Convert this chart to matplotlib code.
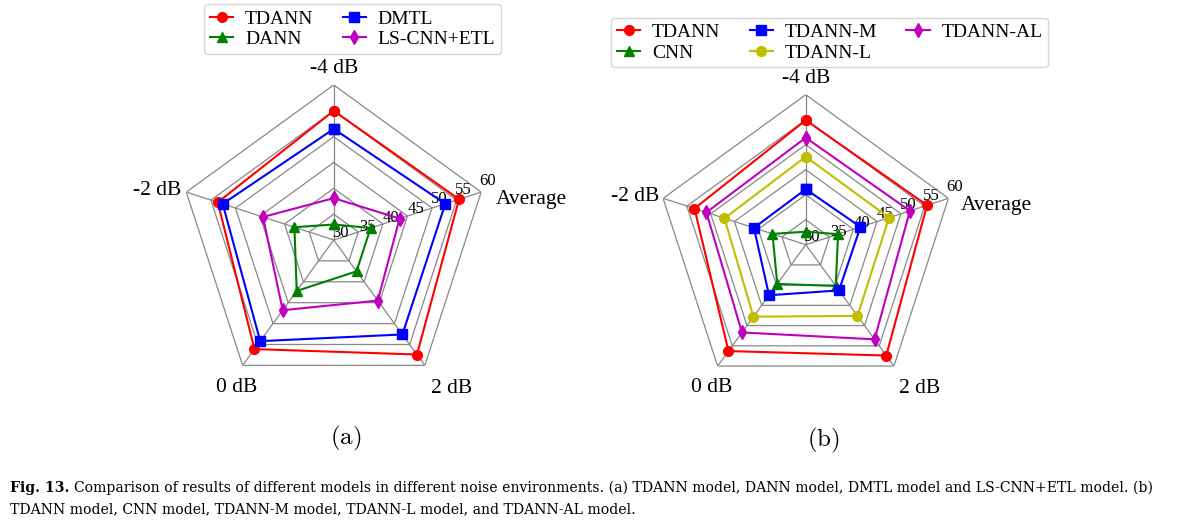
import numpy as np
import matplotlib
matplotlib.use("Agg")
import matplotlib.pyplot as plt

plt.rcParams['font.family'] = ['Liberation Serif', 'DejaVu Serif']
plt.rcParams['mathtext.fontset'] = 'cm'

categories = ['-4 dB', '-2 dB', '0 dB', '2 dB', 'Average']
r_ticks = [30, 35, 40, 45, 50, 55, 60]

# Panel (a)
a_names = ['TDANN', 'DANN', 'DMTL', 'LS-CNN+ETL']
a_tdann = [55.0, 53.6, 56.1, 57.4, 55.5]
a_dann = [33.0, 38.0, 42.2, 37.5, 37.5]
a_dmtl = [51.5, 52.6, 54.2, 52.6, 52.7]
a_lscnn = [38.1, 44.4, 46.8, 44.5, 43.4]

# Panel (b)
b_names = ['TDANN', 'CNN', 'TDANN-M', 'TDANN-L', 'TDANN-AL']
b_tdann = [54.9, 53.4, 56.3, 57.4, 55.5]
b_cnn = [32.6, 37.0, 39.7, 40.2, 36.8]
b_m = [41.1, 40.9, 42.5, 41.3, 41.5]
b_l = [47.6, 47.1, 47.8, 47.6, 47.5]
b_al = [51.4, 50.9, 51.7, 53.4, 51.9]

styles_a = [('r', 'o'), ('g', '^'), ('b', 's'), ('m', 'd')]
styles_b = [('r', 'o'), ('g', '^'), ('b', 's'), ('y', 'o'), ('m', 'd')]

# label placement (angle shift in degrees, radius in data units)
cat_shift = [0.0, 2.2, 2.5, 2.3, -6.4]
cat_rad = [63.2, 65.5, 64.2, 66.7, 69.0]

fig = plt.figure(figsize=(11.82, 5.22), dpi=100)

def radar(rect, names, series, styles, legend_anchor, ncol, label, label_xy):
    ax = fig.add_axes(rect, projection='polar')
    n = len(categories)
    theta = np.linspace(0, 2 * np.pi, n, endpoint=False)
    tc = np.append(theta, theta[0])
    ax.set_theta_offset(np.pi / 2)
    ax.set_ylim(r_ticks[0], r_ticks[-1])
    ax.spines['polar'].set_visible(False)
    ax.set_xticks(theta)
    ax.set_xticklabels([])
    ax.set_yticks(r_ticks)
    ax.set_yticklabels([])
    ax.yaxis.grid(False)
    ax.xaxis.grid(True, color='#888888', lw=0.9)
    ax.tick_params(length=0)
    # pentagon grid
    for rv in r_ticks[1:]:
        ax.plot(tc, [rv] * (n + 1), color='#888888', lw=0.9, zorder=1)
    # category labels
    for th, cat, sh, rr in zip(theta, categories, cat_shift, cat_rad):
        ax.text(th + np.deg2rad(sh), rr, cat, ha='center', va='center',
                fontsize=15.5, clip_on=False)
    # radial labels
    span = r_ticks[-1] - r_ticks[0]
    for rv in r_ticks:
        if rv == r_ticks[0]:
            ax.text(np.deg2rad(50 - 90), rv + 0.063 * span, str(rv),
                    ha='center', va='center', fontsize=12, clip_on=False)
        else:
            ax.text(np.deg2rad(21 - 90), rv + 0.065 * span, str(rv),
                    ha='center', va='center', fontsize=12, clip_on=False)
    handles = []
    for vals, name, (c, m) in zip(series, names, styles):
        h, = ax.plot(tc, list(vals) + [vals[0]], color=c, marker=m, lw=1.5,
                     markersize=7, label=name, zorder=3, clip_on=False)
        handles.append(h)
    ax.legend(handles=handles, loc='center', bbox_to_anchor=legend_anchor,
              bbox_transform=fig.transFigure, ncol=ncol, fontsize=14,
              frameon=True, edgecolor='#cccccc', columnspacing=1.5,
              handlelength=1.2, handletextpad=0.6, borderpad=0.3,
              labelspacing=0.15)
    fig.text(label_xy[0], label_xy[1], label, ha='center', va='center', fontsize=18)
    return ax

radar([0.1512, 0.2433, 0.2623, 0.5939], a_names,
      [a_tdann, a_dann, a_dmtl, a_lscnn], styles_a, (0.2984, 0.9444), 2,
      r'$\mathrm{(a)}$', (345.7 / 1182, 1 - 438 / 522))
radar([0.5548, 0.2439, 0.2538, 0.5747], b_names,
      [b_tdann, b_cnn, b_m, b_l, b_al], styles_b, (0.702, 0.9186), 3,
      r'$\mathrm{(b)}$', (823.3 / 1182, 1 - 440 / 522))

cap_kw = dict(fontsize=10.1, va='center', ha='left', family='DejaVu Serif')
fig.text(10 / 1182, 1 - 488 / 522, 'Fig. 13.', fontweight='bold', **cap_kw)
fig.text(74 / 1182, 1 - 488 / 522, 'Comparison of results of different models in different noise environments. (a) TDANN model, DANN model, DMTL model and LS-CNN+ETL model. (b)',
         **cap_kw)
fig.text(10 / 1182, 1 - 509 / 522, 'TDANN model, CNN model, TDANN-M model, TDANN-L model, and TDANN-AL model.',
         **cap_kw)

fig.savefig('out.png', dpi=100)
